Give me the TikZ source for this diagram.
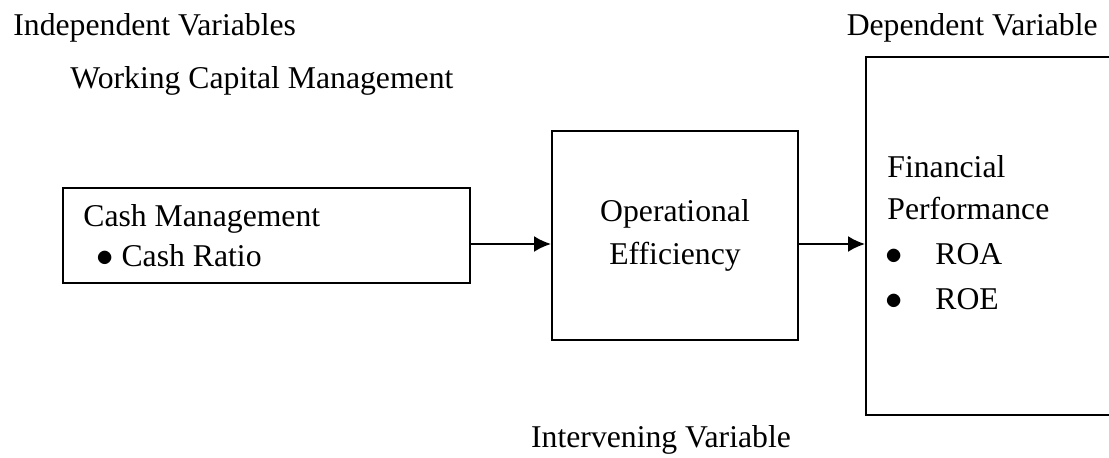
\documentclass[tikz,border=0pt]{standalone}
\usepackage{fontspec}
\setmainfont{Liberation Serif}
\usetikzlibrary{positioning}
\usetikzlibrary{arrows.meta}

\begin{document}
\begin{tikzpicture}[
x=0.5pt, y=-0.5pt,
font=\fontsize{15.85}{21.5}\selectfont,
>={Latex[length=8.5pt,width=8pt]},   % Pfeilspitzen
box/.style={draw, line width=1pt, inner sep=0pt},
txt/.style={anchor=base west, inner sep=0pt}
]

% Rahmen des Bildes
\useasboundingbox (0,0) rectangle (1109,458);
\clip (0,0) rectangle (1109,458);

% Ueberschriften
\node[txt] (indep) at (13,36) {Independent Variables};
\node[txt] (wcm) at (70,89) {Working Capital Management};
\node[txt, anchor=base east] (dep) at (1098,36) {Dependent Variable};
\node[txt, anchor=base] (interv) at (661,448) {Intervening Variable};

% Kaesten
\node[box, minimum width=203.5pt, minimum height=47.5pt] (cash) at (266.5,235.5) {};
\node[box, minimum width=123pt, minimum height=104.5pt] (oper) at (675,235.5) {};
\node[box, minimum width=127pt, minimum height=179pt] (perf) at (993,236) {};

% Texte in den Kaesten
\node[txt] (cash1) at (83,227) {Cash Management};
\node[txt] (cash2) at (96,267) {$\bullet$ Cash Ratio};

\node[txt, anchor=base] (oper1) at (675,222) {Operational};
\node[txt, anchor=base] (oper2) at (675,265) {Efficiency};

\node[txt] (perf1) at (887,178) {Financial};
\node[txt] (perf2) at (887,220) {Performance};
\node[txt] (perf3) at (885,265) {\makebox[25pt][l]{$\bullet$}ROA};
\node[txt] (perf4) at (885,310) {\makebox[25pt][l]{$\bullet$}ROE};

% Pfeile
\draw[->, line width=1pt] ([yshift=-4.25pt]cash.east) -- ([yshift=-4.25pt]cash.east -| oper.west);
\draw[->, line width=1pt] ([yshift=-4.25pt]oper.east) -- ([yshift=-4.25pt]oper.east -| perf.west);

\end{tikzpicture}
\end{document}
